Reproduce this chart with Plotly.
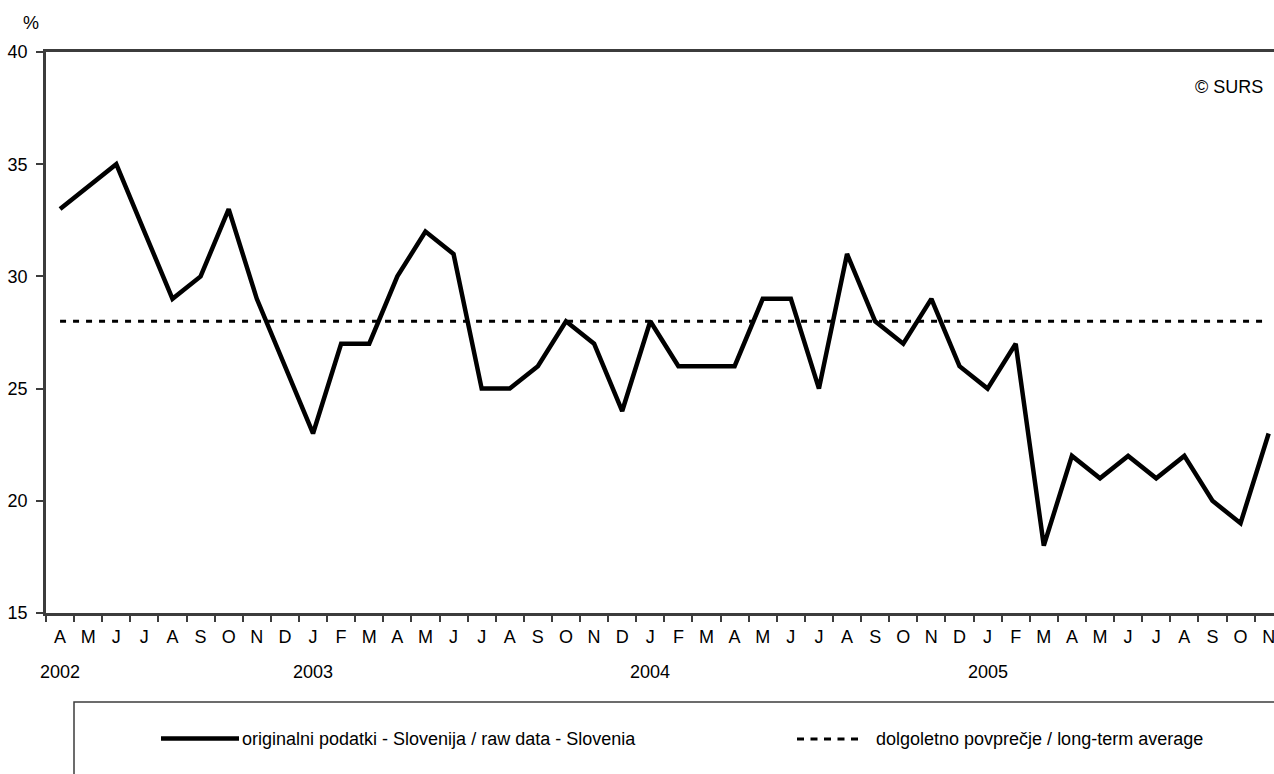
import plotly.graph_objects as go

months = ["A", "M", "J", "J", "A", "S", "O", "N", "D",
          "J", "F", "M", "A", "M", "J", "J", "A", "S", "O", "N", "D",
          "J", "F", "M", "A", "M", "J", "J", "A", "S", "O", "N", "D",
          "J", "F", "M", "A", "M", "J", "J", "A", "S", "O", "N"]
raw_data = [33, 34, 35, 32, 29, 30, 33, 29, 26,
            23, 27, 27, 30, 32, 31, 25, 25, 26, 28, 27, 24,
            28, 26, 26, 26, 29, 29, 25, 31, 28, 27, 29, 26,
            25, 27, 18, 22, 21, 22, 21, 22, 20, 19, 23]
long_term_avg = [28] * len(months)
years = ["2002", "2003", "2004", "2005"]
year_pos = [0, 9, 21, 33]

name_raw = "originalni podatki - Slovenija / raw data - Slovenia"
name_avg = "dolgoletno povprečje / long-term average"

idx = list(range(len(months)))
FONT = "Liberation Sans, Arial, sans-serif"
AXC = "#3c3c3c"

W, H = 1274, 774
L, R, T, B = 46, 0, 52, 161
PW, PH = W - L - R, H - T - B


def px(x):
    return (x - L) / PW


def py(y):
    return (H - B - y) / PH


fig = go.Figure()
fig.add_trace(go.Scatter(x=idx, y=long_term_avg, mode="lines", name=name_avg,
                         line=dict(color="black", width=3, dash="6px,7px"),
                         hoverinfo="skip"))
fig.add_trace(go.Scatter(x=idx, y=raw_data, mode="lines", name=name_raw,
                         line=dict(color="black", width=4.5)))

shapes = [
    dict(type="rect", xref="paper", yref="paper",
         x0=px(74), x1=px(1300), y0=py(800), y1=py(702),
         line=dict(color=AXC, width=1.5), fillcolor="rgba(0,0,0,0)"),
    dict(type="line", xref="paper", yref="paper",
         x0=px(161), x1=px(239), y0=py(738.5), y1=py(738.5),
         line=dict(color="black", width=4.5)),
    dict(type="line", xref="paper", yref="paper",
         x0=px(797), x1=px(862), y0=py(739), y1=py(739),
         line=dict(color="black", width=3, dash="7px,6.5px")),
]

annotations = [
    dict(text="%", xref="paper", yref="paper", x=px(31), y=py(23),
         xanchor="center", yanchor="middle", showarrow=False,
         font=dict(size=18, color="black", family=FONT)),
    dict(text="© SURS", xref="paper", yref="paper", x=px(1265), y=py(87),
         xanchor="right", yanchor="middle", showarrow=False,
         font=dict(size=18, color="black", family=FONT)),
    dict(text=name_raw, xref="paper", yref="paper", x=px(240), y=py(739),
         xanchor="left", yanchor="middle", showarrow=False,
         font=dict(size=18, color="black", family=FONT)),
    dict(text=name_avg, xref="paper", yref="paper", x=px(874), y=py(739),
         xanchor="left", yanchor="middle", showarrow=False,
         font=dict(size=18, color="black", family=FONT)),
]
for yr, pos in zip(years, year_pos):
    annotations.append(dict(text=yr, xref="x", yref="paper", x=pos, y=py(672),
                            xanchor="center", yanchor="middle", showarrow=False,
                            font=dict(size=18, color="black", family=FONT)))

fig.update_layout(
    width=W, height=H,
    margin=dict(l=L, r=R, t=T, b=B, pad=0),
    paper_bgcolor="white", plot_bgcolor="white",
    showlegend=False,
    font=dict(family=FONT, size=18, color="black"),
    shapes=shapes,
    annotations=annotations,
    xaxis=dict(
        range=[-0.5, 43.19], tickmode="array", tickvals=idx, ticktext=months,
        ticks="", showgrid=False, zeroline=False, ticklabelstandoff=6,
        ticklabeloverflow="allow",
        showline=True, linecolor=AXC, linewidth=2.5, mirror=True,
        tickfont=dict(size=18, color="black", family=FONT),
        minor=dict(tick0=-0.5, dtick=1, ticks="outside", ticklen=6,
                   tickwidth=2, tickcolor=AXC, showgrid=False),
    ),
    yaxis=dict(
        range=[15, 40], tickmode="linear", tick0=15, dtick=5,
        ticks="outside", ticklen=7, tickwidth=2, tickcolor=AXC,
        showgrid=False, zeroline=False, ticklabelstandoff=5,
        ticklabeloverflow="allow",
        showline=True, linecolor=AXC, linewidth=2.5,
        tickfont=dict(size=18, color="black", family=FONT),
    ),
)

fig.write_html("out.html",
               config={"displayModeBar": False},
               post_script="document.body.style.margin='0';document.body.style.overflow='hidden';")
